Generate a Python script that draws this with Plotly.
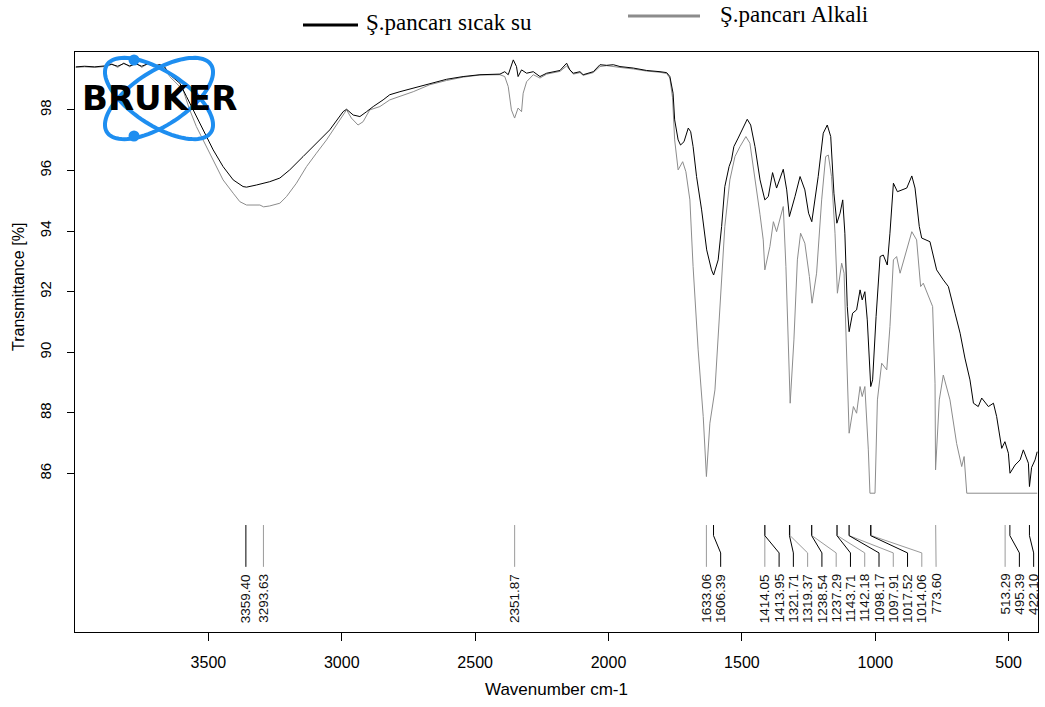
import numpy as np
import plotly.graph_objects as go

# ---------------- data ----------------
sicak_wn = [3997, 3964, 3926, 3889, 3862, 3840, 3817, 3795, 3772, 3750, 3727, 3705, 3682, 3664,
            3645, 3607, 3582, 3545, 3520, 3482, 3445, 3407, 3370, 3357, 3320, 3270, 3232, 3195,
            3145, 3095, 3045, 2995, 2982, 2957, 2932, 2907, 2882, 2845, 2820, 2782, 2732, 2670,
            2607, 2545, 2482, 2407, 2389, 2376, 2357, 2345, 2339, 2326, 2307, 2282, 2257, 2232,
            2182, 2157, 2145, 2132, 2107, 2095, 2057, 2032, 2007, 1982, 1957, 1907, 1857, 1807,
            1782, 1770, 1758, 1752, 1739, 1730, 1717, 1701, 1692, 1683, 1670, 1651, 1632, 1614,
            1606, 1589, 1576, 1564, 1548, 1539, 1530, 1514, 1495, 1480, 1467, 1451, 1432, 1414,
            1401, 1385, 1370, 1345, 1332, 1322, 1301, 1282, 1264, 1250, 1238, 1214, 1195, 1180,
            1167, 1155, 1144, 1132, 1122, 1114, 1105, 1098, 1085, 1070, 1057, 1049, 1039, 1030,
            1017, 1010, 997, 982, 970, 955, 945, 932, 917, 901, 882, 863, 851, 835, 826, 795,
            770, 745, 726, 701, 682, 664, 645, 632, 614, 601, 576, 557, 545, 526, 514, 501, 495,
            476, 457, 445, 432, 426, 422, 414, 401, 393]
sicak_t = [99.42, 99.44, 99.42, 99.45, 99.50, 99.44, 99.53, 99.45, 99.52, 99.44, 99.52, 99.45, 99.49, 99.42,
           99.16, 98.88, 98.44, 97.78, 97.34, 96.68, 96.13, 95.69, 95.47, 95.45, 95.52, 95.63, 95.75, 96.02,
           96.46, 96.90, 97.34, 97.94, 98.02, 97.83, 97.78, 97.94, 98.11, 98.33, 98.50, 98.60, 98.72, 98.88,
           99.01, 99.10, 99.16, 99.18, 99.26, 99.16, 99.65, 99.43, 99.10, 99.32, 99.21, 99.26, 99.10, 99.21,
           99.30, 99.54, 99.32, 99.21, 99.26, 99.16, 99.26, 99.49, 99.47, 99.49, 99.43, 99.38, 99.30, 99.26,
           99.23, 99.10, 98.55, 97.67, 97.01, 96.84, 96.95, 97.40, 97.28, 96.79, 95.80, 94.70, 93.38, 92.72,
           92.55, 93.05, 94.15, 95.47, 96.13, 96.35, 96.79, 97.07, 97.45, 97.69, 97.50, 96.79, 95.69, 95.03,
           95.14, 95.93, 95.42, 96.04, 95.36, 94.48, 95.14, 95.80, 95.36, 94.59, 94.31, 95.80, 97.23, 97.50,
           97.12, 95.25, 94.26, 94.59, 95.03, 93.93, 91.51, 90.68, 91.29, 91.40, 92.06, 91.73, 92.00, 91.07,
           88.87, 89.09, 91.18, 93.16, 93.21, 92.88, 93.93, 95.58, 95.30, 95.36, 95.42, 95.82, 95.42, 94.15, 93.77, 93.65,
           92.72, 92.39, 92.17, 91.29, 90.63, 89.81, 89.09, 88.32, 88.21, 88.49, 88.21, 88.32, 87.88, 86.83, 87.05, 86.67, 86.01,
           86.28, 86.45, 86.78, 86.45, 86.34, 85.57, 86.20, 86.45, 86.72]

alkali_wn = [3997, 3964, 3926, 3889, 3862, 3840, 3817, 3795, 3772, 3750, 3727, 3705, 3682, 3664,
             3645, 3595, 3570, 3545, 3520, 3482, 3445, 3407, 3382, 3357, 3307, 3293, 3270, 3232,
             3207, 3170, 3132, 3095, 3057, 3020, 2989, 2982, 2964, 2939, 2920, 2895, 2857, 2820,
             2732, 2670, 2607, 2545, 2482, 2407, 2389, 2376, 2364, 2352, 2339, 2326, 2320, 2307,
             2282, 2257, 2232, 2182, 2157, 2145, 2132, 2107, 2095, 2057, 2032, 2007, 1982, 1957,
             1907, 1857, 1807, 1782, 1770, 1760, 1752, 1739, 1722, 1710, 1695, 1683, 1664, 1645,
             1633, 1620, 1601, 1582, 1564, 1545, 1526, 1507, 1485, 1470, 1451, 1432, 1420, 1414,
             1395, 1382, 1370, 1355, 1345, 1335, 1326, 1319, 1305, 1292, 1280, 1264, 1247, 1237,
             1220, 1201, 1186, 1176, 1164, 1151, 1142, 1126, 1117, 1107, 1098, 1082, 1070, 1057,
             1049, 1039, 1026, 1020, 1001, 992, 976, 957, 945, 932, 920, 907, 889, 863, 845, 830,
             820, 801, 785, 776, 774, 760, 745, 720, 695, 676, 667, 657, 393]
alkali_t = [99.40, 99.42, 99.40, 99.43, 99.52, 99.40, 99.55, 99.42, 99.56, 99.40, 99.53, 99.42, 99.50, 99.40,
            99.10, 98.66, 98.00, 97.45, 97.01, 96.35, 95.69, 95.25, 94.97, 94.86, 94.86, 94.80, 94.83, 94.92,
            95.14, 95.58, 96.13, 96.57, 97.01, 97.50, 97.94, 98.00, 97.73, 97.50, 97.61, 98.00, 98.11, 98.33,
            98.60, 98.83, 98.97, 99.08, 99.15, 99.16, 99.10, 98.77, 98.00, 97.73, 98.06, 97.94, 98.55, 98.93,
            99.16, 99.05, 99.18, 99.27, 99.45, 99.30, 99.18, 99.23, 99.14, 99.23, 99.43, 99.46, 99.42, 99.40,
            99.35, 99.28, 99.24, 99.20, 99.05, 98.40, 97.01, 96.02, 96.29, 95.96, 95.03, 92.83, 90.08, 87.88,
            85.90, 87.66, 88.76, 91.73, 94.15, 95.69, 96.46, 96.79, 97.12, 96.90, 95.80, 94.54, 93.71, 92.72,
            93.49, 94.31, 93.98, 94.48, 94.81, 92.83, 90.63, 88.32, 90.41, 93.05, 93.93, 93.60, 92.50, 91.62,
            92.61, 95.03, 96.46, 96.51, 95.80, 93.93, 91.95, 92.94, 92.61, 89.53, 87.33, 88.21, 87.99, 88.87,
            88.54, 88.87, 86.78, 85.35, 85.35, 88.43, 89.64, 89.42, 90.85, 93.05, 93.16, 92.61, 93.16, 93.98, 93.71, 92.17,
            92.28, 91.84, 91.51, 88.98, 86.12, 88.43, 89.25, 88.43, 86.99, 86.23, 86.56, 85.35, 85.35]

peak_wn = [3359.40, 3293.63, 2351.87, 1633.06, 1606.39, 1414.05, 1413.95, 1321.71, 1319.37,
           1238.54, 1237.29, 1143.71, 1142.18, 1098.17, 1097.91, 1017.52, 1014.06, 773.60,
           513.29, 495.39, 422.10]
peak_series = ["s", "a", "a", "a", "s", "a", "s", "s", "a",
               "s", "a", "s", "a", "s", "a", "s", "a", "a",
               "a", "s", "s"]

x_ticks = [3500, 3000, 2500, 2000, 1500, 1000, 500]
y_ticks = [86, 88, 90, 92, 94, 96, 98]

name_sicak = "Ş.pancarı sıcak su"
name_alkali = "Ş.pancarı Alkali"

# ---------------- styling / layout constants ----------------
W, H = 1045, 707
ML, MR, MT, MB = 75, 7, 52, 75
PW, PH = W - ML - MR, H - MT - MB
X_RANGE = [4000, 390]
Y_RANGE = [80.77, 99.91]
BLACK = "#000000"
GRAY = "#8c8c8c"
LEAD_GRAY = "#9a9a9a"
SANS = "Liberation Sans, Arial, sans-serif"
SERIF = "Liberation Serif, Times New Roman, serif"

def px_to_paper(px, py):
    return (px - ML) / PW, (H - MB - py) / PH

fig = go.Figure()
fig.add_trace(go.Scatter(x=alkali_wn, y=alkali_t, mode="lines", name=name_alkali,
                         line=dict(color=GRAY, width=1), showlegend=False))
fig.add_trace(go.Scatter(x=sicak_wn, y=sicak_t, mode="lines", name=name_sicak,
                         line=dict(color=BLACK, width=1), showlegend=False))

# ---------------- peak labels with leader lines ----------------
LEAD_TOP, LEAD_B1, LEAD_B2, LEAD_BOT, LABEL_TOP = 84.30, 83.95, 83.38, 82.92, 82.72
GAP = 53.5  # minimal label spacing in cm-1
label_pos = []
prev = None
for p in peak_wn:
    q = p if prev is None else min(p, prev - GAP)
    label_pos.append(q)
    prev = q

lead = {"s": ([], []), "a": ([], [])}
annotations = []
for p, q, s in zip(peak_wn, label_pos, peak_series):
    xs, ys = lead[s]
    xs += [p, p, q, q, None]
    ys += [LEAD_TOP, LEAD_B1, LEAD_B2, LEAD_BOT, None]
    annotations.append(dict(x=q, y=LABEL_TOP, xref="x", yref="y", text=f"{p:.2f}",
                            textangle=-90, showarrow=False, xanchor="center", yanchor="top",
                            font=dict(family=SANS, size=13.5, color="#111111"), borderpad=0))
fig.add_trace(go.Scatter(x=lead["a"][0], y=lead["a"][1], mode="lines",
                         line=dict(color=LEAD_GRAY, width=1), showlegend=False, hoverinfo="skip"))
fig.add_trace(go.Scatter(x=lead["s"][0], y=lead["s"][1], mode="lines",
                         line=dict(color=BLACK, width=1), showlegend=False, hoverinfo="skip"))

# ---------------- axis titles ----------------
tx, ty = px_to_paper((ML + W - MR) / 2, 689)
annotations.append(dict(x=tx, y=ty, xref="paper", yref="paper", text="Wavenumber cm-1",
                        showarrow=False, xanchor="center", yanchor="middle",
                        font=dict(family=SANS, size=17, color="black")))
tx, ty = px_to_paper(18, 287)
annotations.append(dict(x=tx, y=ty, xref="paper", yref="paper", text="Transmittance [%]",
                        showarrow=False, textangle=-90, xanchor="center", yanchor="middle",
                        font=dict(family=SANS, size=16, color="black")))

# ---------------- custom legend ----------------
shapes = []
for (x0, x1, yl, col, txt_x, txt_y, txt) in [
        (303, 358, 25, BLACK, 364, 23, name_sicak),
        (628, 700, 16, GRAY, 718, 15, name_alkali)]:
    a0, b0 = px_to_paper(x0, yl)
    a1, _ = px_to_paper(x1, yl)
    shapes.append(dict(type="line", xref="paper", yref="paper", x0=a0, x1=a1, y0=b0, y1=b0,
                       line=dict(color=col, width=3)))
    tx, ty = px_to_paper(txt_x, txt_y)
    annotations.append(dict(x=tx, y=ty, xref="paper", yref="paper", text=txt, showarrow=False,
                            xanchor="left", yanchor="middle",
                            font=dict(family=SERIF, size=23, color="black")))

# ---------------- Bruker logo (decoration) ----------------
BLUE = "#1e8ef0"
cx, cy, ea, eb = 159, 98.5, 62, 27
t = np.linspace(0, 2 * np.pi, 90)
for ang in (33, -33):
    th = np.deg2rad(ang)
    exs = cx + ea * np.cos(t) * np.cos(th) - eb * np.sin(t) * np.sin(th)
    eys = cy + ea * np.cos(t) * np.sin(th) + eb * np.sin(t) * np.cos(th)
    pts = [px_to_paper(a, b) for a, b in zip(exs, eys)]
    path = "M " + " L ".join(f"{a:.5f},{b:.5f}" for a, b in pts) + " Z"
    shapes.append(dict(type="path", xref="paper", yref="paper", path=path,
                       line=dict(color=BLUE, width=4)))
for (dx, dy) in [(134, 60), (134, 136)]:
    a0, b0 = px_to_paper(dx - 5.5, dy + 5.5)
    a1, b1 = px_to_paper(dx + 5.5, dy - 5.5)
    shapes.append(dict(type="circle", xref="paper", yref="paper", x0=a0, y0=b0, x1=a1, y1=b1,
                       fillcolor=BLUE, line=dict(color=BLUE, width=0)))
tx, ty = px_to_paper(159, 98)
annotations.append(dict(x=tx, y=ty, xref="paper", yref="paper", text="<b>BRUKER</b>",
                        showarrow=False, xanchor="center", yanchor="middle",
                        font=dict(family="DejaVu Sans", size=34, color="black")))

fig.update_layout(
    width=W, height=H,
    margin=dict(l=ML, r=MR, t=MT, b=MB, pad=0),
    paper_bgcolor="white", plot_bgcolor="white",
    showlegend=False,
    annotations=annotations,
    shapes=shapes,
    xaxis=dict(range=X_RANGE, tickvals=x_ticks, ticktext=[str(v) for v in x_ticks],
               ticks="outside", ticklen=8, tickcolor="black", tickwidth=1,
               tickfont=dict(family=SANS, size=16, color="black"), ticklabelstandoff=8,
               showgrid=False, zeroline=False, showline=True, mirror=True,
               linecolor="black", linewidth=1),
    yaxis=dict(range=Y_RANGE, tickvals=y_ticks, ticktext=[str(v) for v in y_ticks],
               ticks="outside", ticklen=7, tickcolor="black", tickwidth=1, tickangle=-90,
               tickfont=dict(family=SANS, size=15, color="black"), ticklabelstandoff=10,
               showgrid=False, zeroline=False, showline=True, mirror=True,
               linecolor="black", linewidth=1),
)

fig.write_html("out.html")
